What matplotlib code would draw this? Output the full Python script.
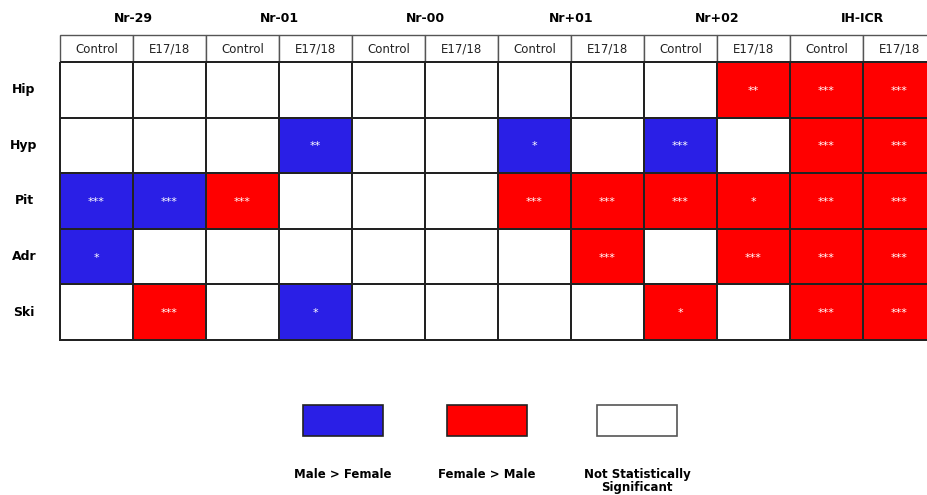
import numpy as np
import matplotlib.pyplot as plt
from matplotlib.colors import ListedColormap
from matplotlib.patches import Rectangle

groups = ['Nr-29', 'Nr-01', 'Nr-00', 'Nr+01', 'Nr+02', 'IH-ICR']
conditions = ['Control', 'E17/18']
tissues = ['Hip', 'Hyp', 'Pit', 'Adr', 'Ski']

# 0 = not significant, 1 = male > female, 2 = female > male
direction = np.array([
    [0, 0, 0, 0, 0, 0, 0, 0, 0, 2, 2, 2],
    [0, 0, 0, 1, 0, 0, 1, 0, 1, 0, 2, 2],
    [1, 1, 2, 0, 0, 0, 2, 2, 2, 2, 2, 2],
    [1, 0, 0, 0, 0, 0, 0, 2, 0, 2, 2, 2],
    [0, 2, 0, 1, 0, 0, 0, 0, 2, 0, 2, 2],
])
stars = [
    ['', '', '', '', '', '', '', '', '', '**', '***', '***'],
    ['', '', '', '**', '', '', '*', '', '***', '', '***', '***'],
    ['***', '***', '***', '', '', '', '***', '***', '***', '*', '***', '***'],
    ['*', '', '', '', '', '', '', '***', '', '***', '***', '***'],
    ['', '***', '', '*', '', '', '', '', '*', '', '***', '***'],
]
legend_labels = ['Male > Female', 'Female > Male', 'Not Statistically\nSignificant']

BLUE = '#2a1fe6'
RED = '#ff0000'
cmap = ListedColormap(['white', BLUE, RED])

W, H = 928, 495
fig = plt.figure(figsize=(W / 100, H / 100), dpi=100)
ax = fig.add_axes([0, 0, 1, 1])
ax.set_xlim(0, W)
ax.set_ylim(H, 0)
ax.axis('off')

# table layout in pixels (last column runs past the right edge)
x0, x1 = 60, 936
y_head0, y_head1 = 35, 62
y_body1 = 340
ncol = len(groups) * len(conditions)
nrow = len(tissues)
xe = np.linspace(x0, x1, ncol + 1)
ye = np.linspace(y_head1, y_body1, nrow + 1)

# header row
for i in range(ncol):
    ax.add_patch(Rectangle((xe[i], y_head0), xe[i + 1] - xe[i], y_head1 - y_head0,
                           facecolor='white', edgecolor='#555555', lw=1.0))
    ax.text((xe[i] + xe[i + 1]) / 2, (y_head0 + y_head1) / 2 + 1,
            conditions[i % 2], ha='center', va='center', fontsize=8.5, color='#222222')

ax.pcolormesh(xe, ye, direction, cmap=cmap, vmin=-0.5, vmax=2.5,
              edgecolor='#222222', linewidth=1.2)

for g, name in enumerate(groups):
    xc = (xe[2 * g] + xe[2 * g + 2]) / 2
    ax.text(xc, 19, name, ha='center', va='center', fontsize=9, fontweight='bold')

for r, name in enumerate(tissues):
    yc = (ye[r] + ye[r + 1]) / 2
    ax.text(24, yc, name, ha='center', va='center', fontsize=9, fontweight='bold')
    for c in range(ncol):
        if stars[r][c]:
            ax.text((xe[c] + xe[c + 1]) / 2, yc + 1, stars[r][c], ha='center', va='center',
                    fontsize=8, color='white')

# legend boxes
legend_colors = [BLUE, RED, 'white']
legend_x = [303, 447, 597]
for lx, col, lab in zip(legend_x, legend_colors, legend_labels):
    ax.add_patch(Rectangle((lx, 405), 80, 31, facecolor=col,
                           edgecolor='#555555' if col == 'white' else '#222222', lw=1.2))
    ax.text(lx + 40, 468, lab, ha='center', va='top', fontsize=8.5,
            fontweight='bold', linespacing=1.0)

fig.savefig('out.png', dpi=100)
